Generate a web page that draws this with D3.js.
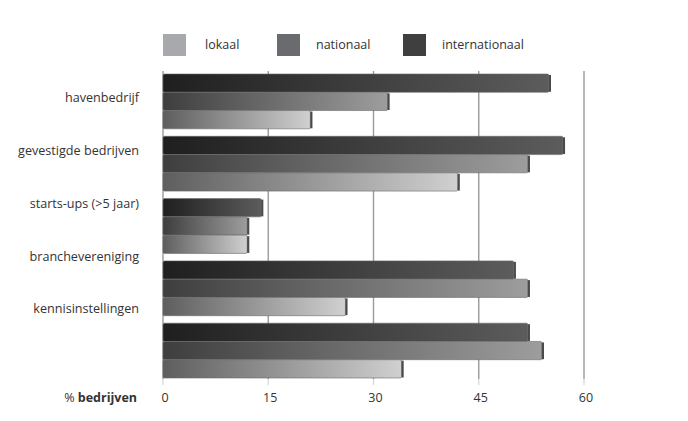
<!DOCTYPE html>
<html>
<head>
<meta charset="utf-8">
<script src="https://cdn.jsdelivr.net/npm/d3@7"></script>
<style>
  html, body { margin: 0; padding: 0; background: #fff; }
  svg { display: block; }
  text { font-family: "Open Sans", "Noto Sans", sans-serif; fill: #333; }
</style>
</head>
<body>
<svg id="chart" width="688" height="421"></svg>
<script>
// ---- data ----
const categories = ["havenbedrijf", "gevestigde bedrijven", "starts-ups (>5 jaar)", "branchevereniging", "kennisinstellingen"];
const seriesNames = ["lokaal", "nationaal", "internationaal"];
const lokaal = [21, 42, 12, 26, 34];
const nationaal = [32, 52, 12, 52, 54];
const internationaal = [55, 57, 14, 50, 52];
const xTicks = [0, 15, 30, 45, 60];
const axisLabelPrefix = "% ";
const axisLabelBold = "bedrijven";

const seriesValues = { lokaal, nationaal, internationaal };
const barOrder = ["internationaal", "nationaal", "lokaal"]; // top to bottom within a group

// ---- layout ----
const svg = d3.select("#chart");
const x = d3.scaleLinear().domain([0, 60]).range([163, 584]);
const y = d3.scaleBand().domain(categories).range([74, 378]).paddingInner(0.12).paddingOuter(0);
const yInner = d3.scaleBand().domain(barOrder).range([0, y.bandwidth()]).padding(0);
const yLabel = d3.scalePoint().domain(categories).range([99, 310]);

const gridTop = 71, gridBottom = 379;

// gradients
const gradStops = {
  internationaal: ["#1f1f1f", "#5c5c5c"],
  nationaal: ["#3e3e3e", "#9d9d9d"],
  lokaal: ["#5e5e5e", "#d0d0d0"]
};
const defs = svg.append("defs");
barOrder.forEach(s => {
  const g = defs.append("linearGradient").attr("id", "grad-" + s)
    .attr("x1", "0%").attr("x2", "100%").attr("y1", "0%").attr("y2", "0%");
  g.append("stop").attr("offset", "0%").attr("stop-color", gradStops[s][0]);
  g.append("stop").attr("offset", "100%").attr("stop-color", gradStops[s][1]);
});

// gridlines
const grid = svg.append("g");
grid.selectAll("line.g").data(xTicks).join("line")
  .attr("x1", d => x(d)).attr("x2", d => x(d))
  .attr("y1", gridTop).attr("y2", gridBottom)
  .attr("stroke", "#9a9a9a").attr("stroke-width", 1.4);
grid.selectAll("line.t").data(xTicks).join("line")
  .attr("x1", d => x(d)).attr("x2", d => x(d))
  .attr("y1", gridBottom).attr("y2", gridBottom + 6)
  .attr("stroke", "#d6d6d6").attr("stroke-width", 1.2);

// bars
const groups = svg.append("g").selectAll("g").data(categories).join("g")
  .attr("transform", d => `translate(0,${y(d)})`);
groups.selectAll("rect").data((c, i) => barOrder.map(s => ({ s, v: seriesValues[s][i] })))
  .join("rect")
  .attr("x", x(0))
  .attr("y", d => yInner(d.s))
  .attr("width", d => x(d.v) - x(0))
  .attr("height", yInner.bandwidth())
  .attr("rx", 1.5)
  .attr("fill", d => `url(#grad-${d.s})`)
  .attr("stroke", "#6a6a6a").attr("stroke-width", 0.6);
// darker end caps (slight raised edge)
groups.selectAll("line.cap").data((c, i) => barOrder.map(s => ({ s, v: seriesValues[s][i] })))
  .join("line").attr("class", "cap")
  .attr("x1", d => x(d.v) + 1).attr("x2", d => x(d.v) + 1)
  .attr("y1", d => yInner(d.s) + 1).attr("y2", d => yInner(d.s) + yInner.bandwidth() - 0.5)
  .attr("stroke", "#4a4a4a").attr("stroke-width", 2.2);

// category labels
svg.append("g").selectAll("text").data(categories).join("text")
  .attr("x", 139).attr("y", d => yLabel(d))
  .attr("text-anchor", "end").attr("dominant-baseline", "middle")
  .attr("font-size", 12.6).text(d => d);

// x tick labels
svg.append("g").selectAll("text").data(xTicks).join("text")
  .attr("x", d => x(d) + 2).attr("y", 399)
  .attr("text-anchor", "middle").attr("dominant-baseline", "middle")
  .attr("font-size", 12.5).text(d => d);

// axis title
const at = svg.append("text").attr("x", 137).attr("y", 399)
  .attr("text-anchor", "end").attr("dominant-baseline", "middle").attr("font-size", 12.5);
at.append("tspan").text(axisLabelPrefix);
at.append("tspan").attr("font-weight", "bold").text(axisLabelBold);

// legend
const legendColors = { lokaal: "#a8a9ac", nationaal: "#6a6b6f", internationaal: "#3f3f3f" };
const legendX = d3.scaleOrdinal().domain(seriesNames).range([163, 277, 403]);
const lg = svg.append("g").selectAll("g").data(seriesNames).join("g")
  .attr("transform", d => `translate(${legendX(d)},34)`);
lg.append("rect").attr("width", 23).attr("height", 22).attr("fill", d => legendColors[d]);
lg.append("text").attr("x", d => d === "lokaal" ? 42 : 39).attr("y", 12)
  .attr("dominant-baseline", "middle").attr("font-size", 12.5).text(d => d);
</script>
</body>
</html>
